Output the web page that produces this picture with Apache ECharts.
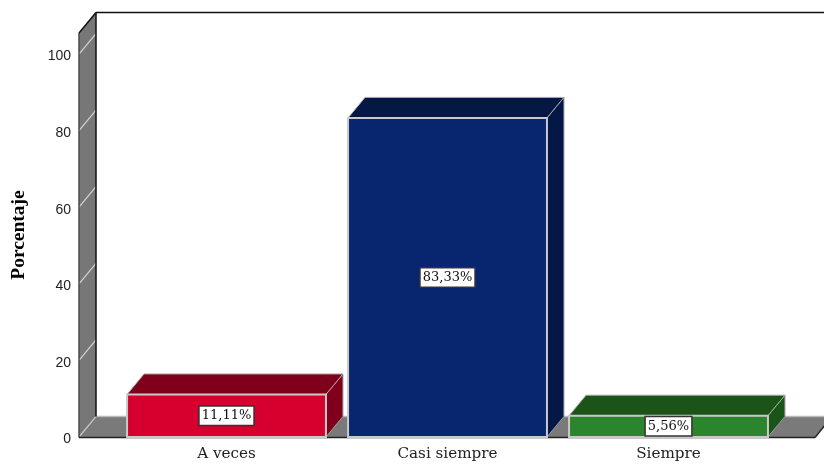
<!DOCTYPE html>
<html>
<head>
<meta charset="utf-8">
<style>html,body{margin:0;padding:0;background:#fff}#c{width:824px;height:466px}</style>
<script src="https://cdn.jsdelivr.net/npm/echarts@6/dist/echarts.min.js"></script>
</head>
<body>
<div id="c"></div>
<script>
const categories = ['A veces', 'Casi siempre', 'Siempre'];
const values = [11.11, 83.33, 5.56];
const valueLabels = ['11,11%', '83,33%', '5,56%'];
const yTicks = [0, 20, 40, 60, 80, 100];
const yMax = 105.5;
const frontColors = ['#d6002f', '#08256f', '#2a852c'];
const sideColors = ['#80001c', '#051845', '#1b5419'];

const DX = 17, DY = 20.5;
const chart = echarts.init(document.getElementById('c'), null, {renderer: 'canvas'});

function poly(points, fill, stroke, lw) {
  return {type: 'polygon', shape: {points}, style: {fill, stroke: stroke || 'none', lineWidth: lw || 0}};
}
function line(x1, y1, x2, y2, stroke, lw) {
  return {type: 'line', shape: {x1, y1, x2, y2}, style: {stroke, lineWidth: lw || 1, fill: 'none'}};
}

function renderWalls(params, api) {
  const rect = params.coordSys;
  const yBase = api.coord([0, 0])[1];
  const yTop = api.coord([0, yMax])[1];
  const xL = rect.x - 37;
  const xR = rect.x + rect.width + 36;
  const children = [];
  children.push(poly([[xL, yBase], [xL, yTop], [xL + DX, yTop - DY], [xL + DX, yBase - DY]], '#777777'));
  children.push(poly([[xL, yBase], [xL + DX, yBase - DY], [xR + DX, yBase - DY], [xR, yBase]], '#7a7a7a'));
  yTicks.slice(1).forEach(function (t) {
    const y = api.coord([0, t])[1];
    children.push(line(xL, y, xL + DX, y - DY, '#d4d4d4', 1.2));
  });
  children.push(line(xL, yBase, xL + DX, yBase - DY, '#c4c4c4', 1.2));
  children.push(line(xL + DX, yBase - DY, xR + DX, yBase - DY, '#b9b9b9', 1.5));
  children.push(line(xL, yBase + 0.5, xL, yTop, '#4a4a4a', 1.5));
  children.push(line(xL + DX, yBase - DY, xL + DX, yTop - DY, '#111111', 1.5));
  children.push(line(xL, yTop, xL + DX, yTop - DY, '#111111', 1.5));
  children.push(line(xL + DX, yTop - DY, xR + DX, yTop - DY, '#111111', 1.5));
  children.push(line(xL, yBase + 0.5, xR, yBase + 0.5, '#222222', 1.5));
  children.push(line(xR, yBase + 0.5, xR + DX, yBase - DY, '#222222', 1.5));
  return {type: 'group', children};
}

function renderBar(params, api) {
  const i = api.value(0);
  const v = api.value(1);
  const c = api.coord([i, v]);
  const b = api.coord([i, 0]);
  const w = api.size([1, 0])[0] * 0.9;
  const x0 = c[0] - w / 2, x1 = c[0] + w / 2;
  const yT = c[1], yB = b[1];
  const edge = '#c9c9c9';
  const side = sideColors[i];
  return {type: 'group', children: [
    poly([[x1, yB], [x1, yT], [x1 + DX, yT - DY], [x1 + DX, yB - DY]], side, '#9a9a9a', 1),
    poly([[x0, yT], [x0 + DX, yT - DY], [x1 + DX, yT - DY], [x1, yT]], side, '#a8a8a8', 1),
    {type: 'rect', shape: {x: x0, y: yT, width: w, height: yB - yT},
      style: {fill: frontColors[i], stroke: edge, lineWidth: 2}},
    {type: 'text', z2: 10, style: {
      text: valueLabels[i], x: c[0], y: (yT + yB) / 2,
      align: 'center', verticalAlign: 'middle',
      font: '13px "DejaVu Serif"', fill: '#111',
      backgroundColor: '#fff', borderColor: '#333', borderWidth: 1.5,
      padding: [3, 2, 2, 2]
    }}
  ]};
}

chart.setOption({
  animation: false,
  backgroundColor: '#fff',
  grid: {left: 116, width: 663, top: 33, height: 404, containLabel: false, outerBoundsMode: 'none'},
  xAxis: {
    type: 'category', data: categories, boundaryGap: true,
    axisLine: {show: false}, axisTick: {show: false}, splitLine: {show: false},
    axisLabel: {color: '#222', fontFamily: 'DejaVu Serif', fontSize: 15.2, margin: 10}
  },
  yAxis: {
    type: 'value', min: 0, max: yMax, interval: 20,
    axisLine: {show: false}, axisTick: {show: false}, splitLine: {show: false},
    axisLabel: {
      margin: 45, showMaxLabel: false,
      formatter: '{t|{value}}',
      rich: {t: {color: '#222', fontFamily: 'Liberation Sans', fontSize: 14, padding: [5, 0, 0, 0]}}
    },
    name: 'Porcentaje', nameLocation: 'middle', nameGap: 87, nameRotate: 90,
    nameTextStyle: {color: '#000', fontFamily: 'Liberation Serif', fontWeight: 'bold', fontSize: 19.5}
  },
  series: [
    {type: 'custom', coordinateSystem: 'cartesian2d', renderItem: renderWalls, data: [[0, 0]], silent: true, z: 1, clip: false},
    {type: 'custom', coordinateSystem: 'cartesian2d', renderItem: renderBar,
      data: values.map(function (v, i) { return [i, v]; }), encode: {x: 0, y: 1}, z: 2, clip: false}
  ]
});
</script>
</body>
</html>
